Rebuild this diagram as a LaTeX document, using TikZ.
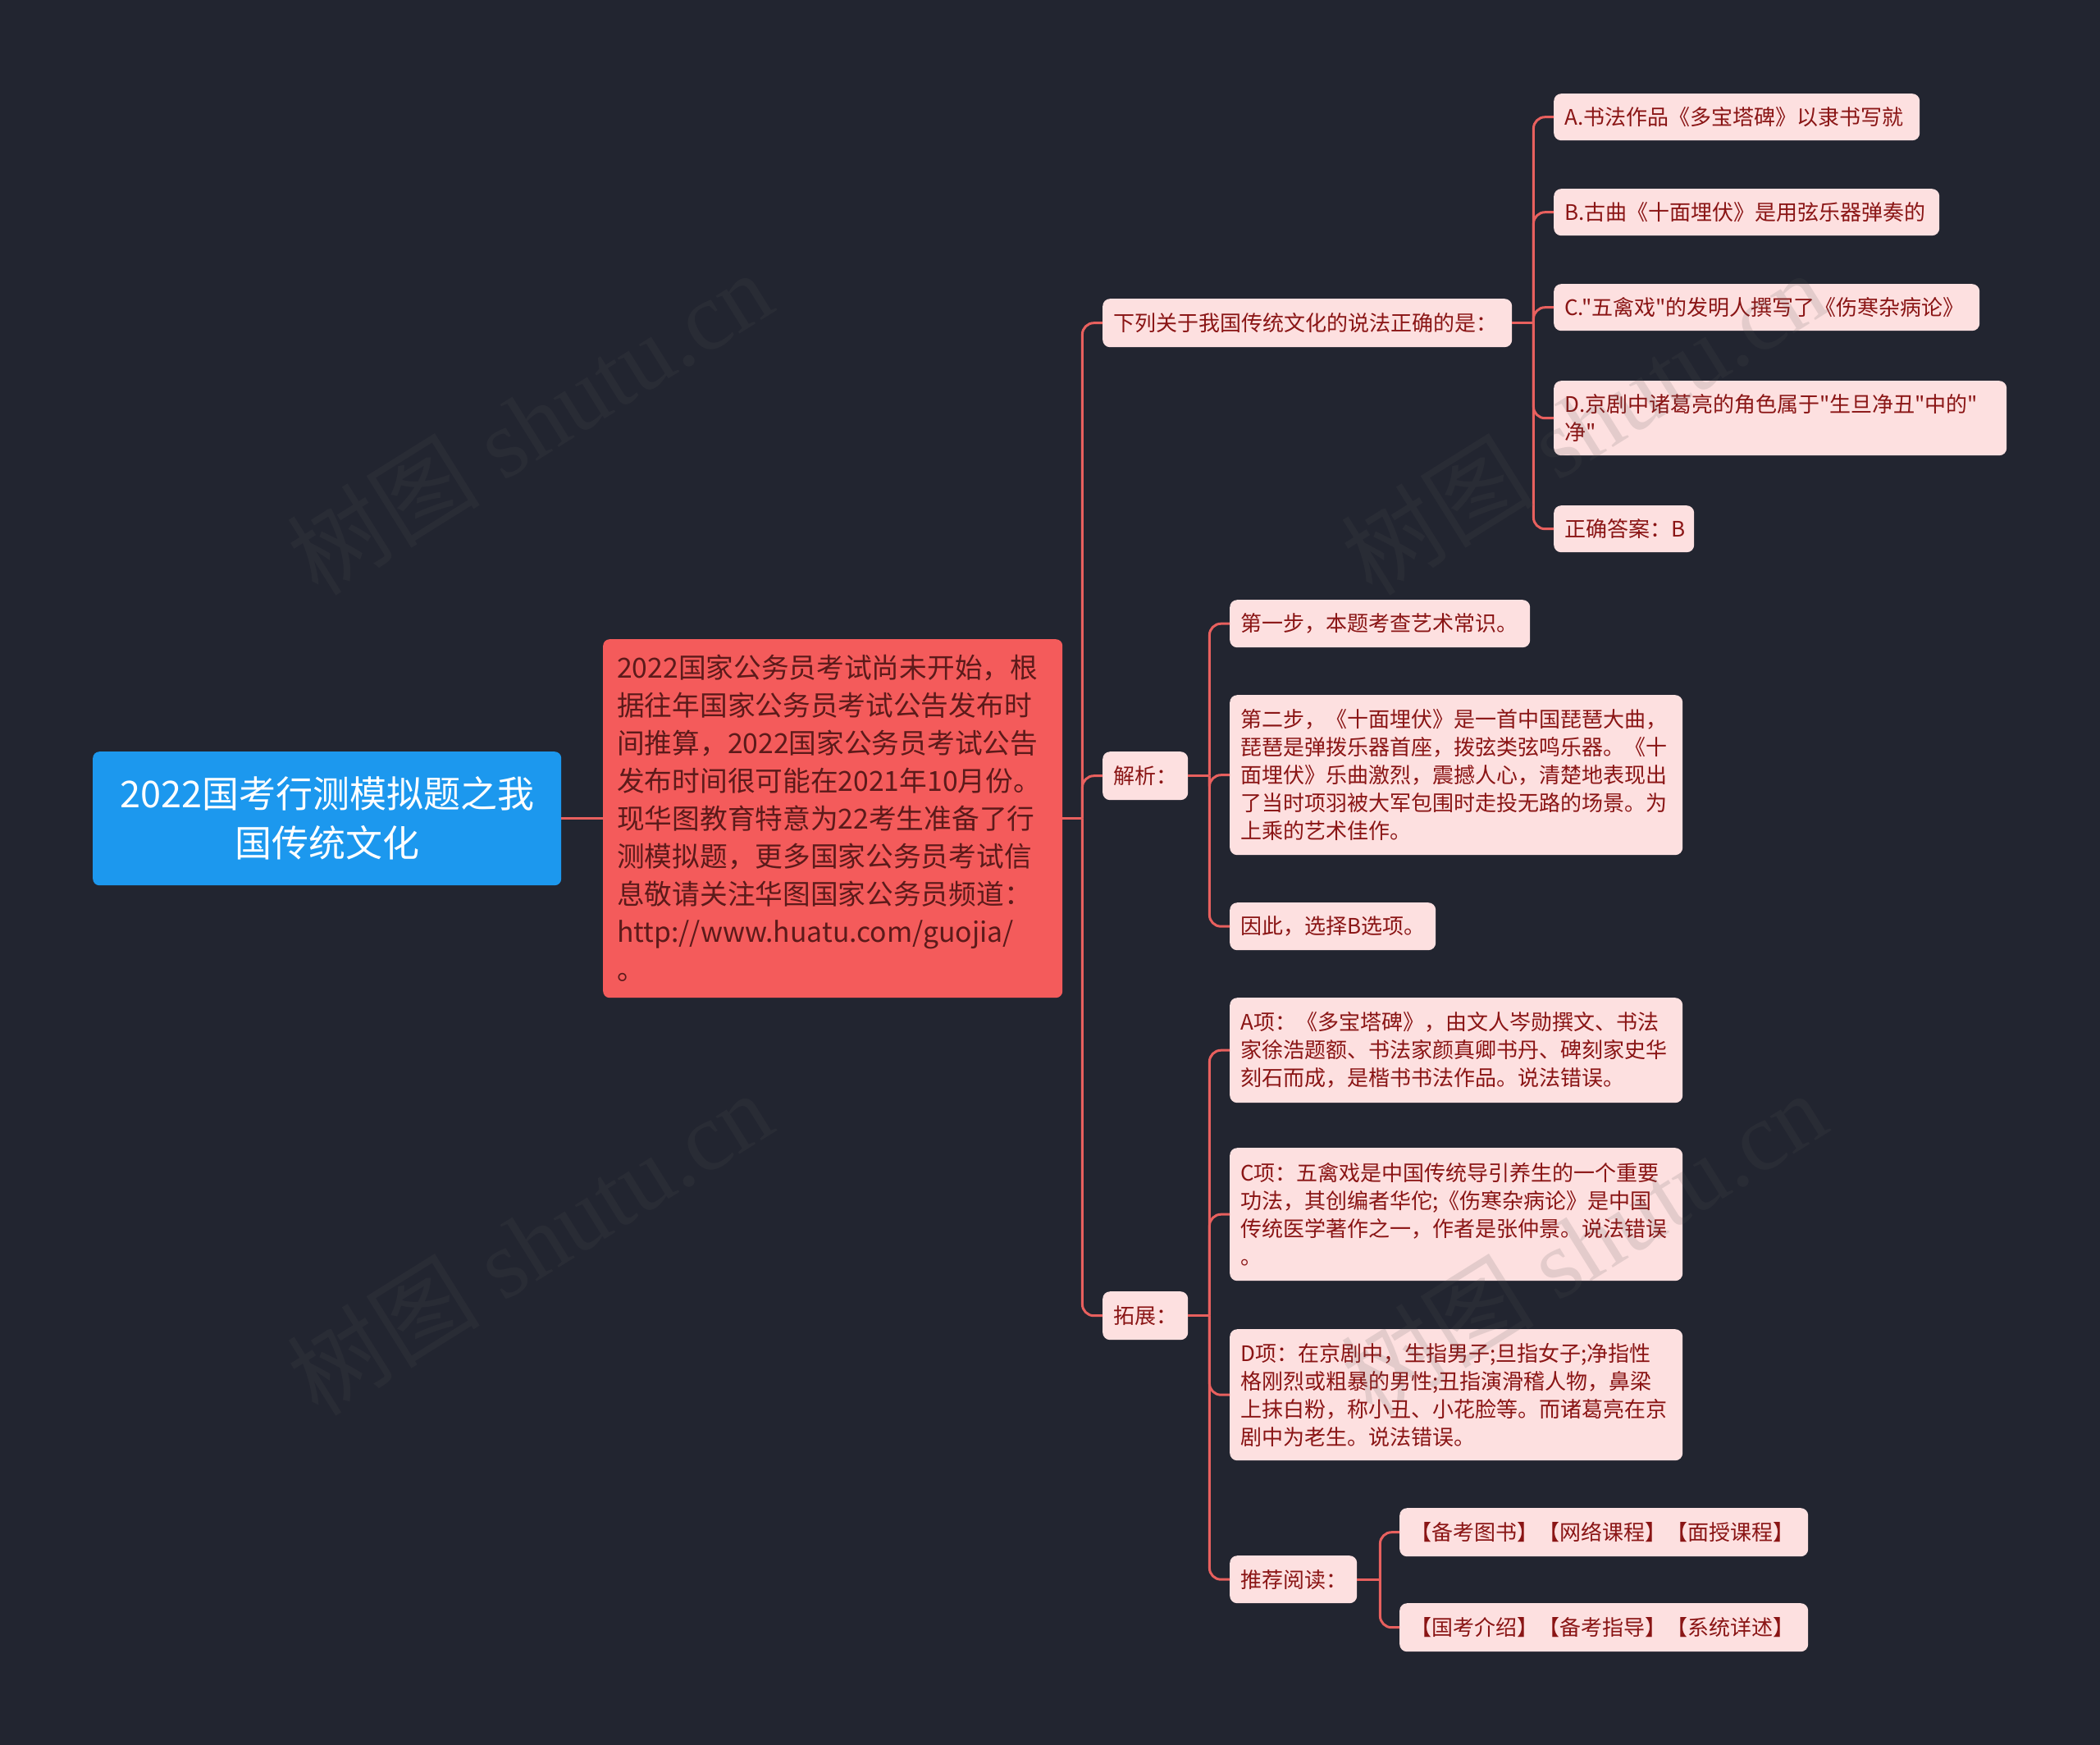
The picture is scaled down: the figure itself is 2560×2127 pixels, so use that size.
\documentclass[tikz,border=0pt]{standalone}
\usepackage{fontspec}
\setmainfont{Noto Sans CJK SC}[Ligatures=TeXOff]
\newfontfamily\wmserif{Liberation Serif}
\definecolor{bgc}{HTML}{222530}
\definecolor{rootc}{HTML}{1C98EE}
\definecolor{mainc}{HTML}{F45B5B}
\definecolor{maintext}{HTML}{5C1A1A}
\definecolor{leafc}{HTML}{FDE0E0}
\definecolor{leaftext}{HTML}{8A1515}
\definecolor{linec}{HTML}{E8605E}
\definecolor{wmc}{HTML}{555555}
\begin{document}
\begin{tikzpicture}[x=1pt,y=-1pt,
  leaf/.style={fill=leafc, rounded corners=9pt, text=leaftext, font=\fontsize{26}{34}\selectfont, inner xsep=13pt, inner ysep=0pt, align=left, anchor=north west},
  conn/.style={draw=linec, line width=3pt, rounded corners=14pt},
  wm/.style={rotate=32, text=wmc, opacity=0.15, font=\fontsize{118}{118}\selectfont}]
\fill[bgc] (0,0) rectangle (2560,2127);
\useasboundingbox (0,0) rectangle (2560,2127);

% root and main
\node[fill=rootc, rounded corners=8pt, text=white, align=center, minimum width=571pt, minimum height=163pt, inner sep=0pt, font=\fontsize{45}{60}\selectfont, anchor=north west] (root) at (113,916) {2022国考行测模拟题之我\\国传统文化};
\node[fill=mainc, rounded corners=8pt, text=maintext, align=left, text width=526pt, minimum height=437pt, inner xsep=17pt, inner ysep=0pt, font=\fontsize{33.7}{46}\selectfont, anchor=north west] (main) at (735,779) {2022国家公务员考试尚未开始，根\\据往年国家公务员考试公告发布时\\间推算，2022国家公务员考试公告\\发布时间很可能在2021年10月份。\\现华图教育特意为22考生准备了行\\测模拟题，更多国家公务员考试信\\息敬请关注华图国家公务员频道：\\http://www.huatu.com/guojia/\\。};

% level 1
\node[leaf, text width=473pt, minimum height=59pt] (q) at (1344,364) {下列关于我国传统文化的说法正确的是：};
\node[leaf, text width=78pt, minimum height=59pt] (jx) at (1344,916) {解析：};
\node[leaf, text width=78pt, minimum height=59pt] (tz) at (1344,1574) {拓展：};

% question options
\node[leaf, text width=420pt, minimum height=57pt] (qa) at (1894,114) {A.书法作品《多宝塔碑》以隶书写就};
\node[leaf, text width=444pt, minimum height=57pt] (qb) at (1894,230) {B.古曲《十面埋伏》是用弦乐器弹奏的};
\node[leaf, text width=493pt, minimum height=57pt] (qc) at (1894,346) {C."五禽戏"的发明人撰写了《伤寒杂病论》};
\node[leaf, text width=526pt, minimum height=91pt] (qd) at (1894,464) {D.京剧中诸葛亮的角色属于"生旦净丑"中的"\\净"};
\node[leaf, text width=145pt, minimum height=57pt] (qans) at (1894,616) {正确答案：B};

% analysis
\node[leaf, text width=340pt, minimum height=58pt] (s1) at (1499,731) {第一步，本题考查艺术常识。};
\node[leaf, text width=526pt, minimum height=195pt] (s2) at (1499,847) {第二步，《十面埋伏》是一首中国琵琶大曲，\\琵琶是弹拨乐器首座，拨弦类弦鸣乐器。《十\\面埋伏》乐曲激烈，震撼人心，清楚地表现出\\了当时项羽被大军包围时走投无路的场景。为\\上乘的艺术佳作。};
\node[leaf, text width=225pt, minimum height=58pt] (s3) at (1499,1100) {因此，选择B选项。};

% extension
\node[leaf, text width=526pt, minimum height=128pt] (ea) at (1499,1216) {A项：《多宝塔碑》，由文人岑勋撰文、书法\\家徐浩题额、书法家颜真卿书丹、碑刻家史华\\刻石而成，是楷书书法作品。说法错误。};
\node[leaf, text width=526pt, minimum height=162pt] (ec) at (1499,1399) {C项：五禽戏是中国传统导引养生的一个重要\\功法，其创编者华佗;《伤寒杂病论》是中国\\传统医学著作之一，作者是张仲景。说法错误\\。};
\node[leaf, text width=526pt, minimum height=160pt] (ed) at (1499,1620) {D项：在京剧中，生指男子;旦指女子;净指性\\格刚烈或粗暴的男性;丑指演滑稽人物，鼻梁\\上抹白粉，称小丑、小花脸等。而诸葛亮在京\\剧中为老生。说法错误。};
\node[leaf, text width=129pt, minimum height=58pt] (rec) at (1499,1896) {推荐阅读：};
\node[leaf, text width=472pt, minimum height=59pt] (r1) at (1706,1838) {【备考图书】【网络课程】【面授课程】};
\node[leaf, text width=472pt, minimum height=59pt] (r2) at (1706,1954) {【国考介绍】【备考指导】【系统详述】};

% connectors
\draw[conn] (root.east) -- (main.west);
\draw[conn] (main.east) -- ++(24,0) coordinate (t0);
\draw[conn] (t0) |- (q.west);
\draw[conn] (t0) |- (jx.west);
\draw[conn] (t0) |- (tz.west);

\draw[conn] (q.east) -- ++(26,0) coordinate (t1);
\foreach \c in {qa,qb,qc,qd,qans} \draw[conn] (t1) |- (\c.west);

\draw[conn] (jx.east) -- ++(26,0) coordinate (t2);
\foreach \c in {s1,s2,s3} \draw[conn] (t2) |- (\c.west);

\draw[conn] (tz.east) -- ++(26,0) coordinate (t3);
\foreach \c in {ea,ec,ed,rec} \draw[conn] (t3) |- (\c.west);

\draw[conn] (rec.east) -- ++(28,0) coordinate (t4);
\foreach \c in {r1,r2} \draw[conn] (t4) |- (\c.west);

% watermarks
\node[wm] (w1) at (645,515) {树图{\wmserif\ shutu.cn}};
\node[wm] (w2) at (1930,515) {树图{\wmserif\ shutu.cn}};
\node[wm] (w3) at (645,1515) {树图{\wmserif\ shutu.cn}};
\node[wm] (w4) at (1930,1515) {树图{\wmserif\ shutu.cn}};
\end{tikzpicture}
\end{document}
